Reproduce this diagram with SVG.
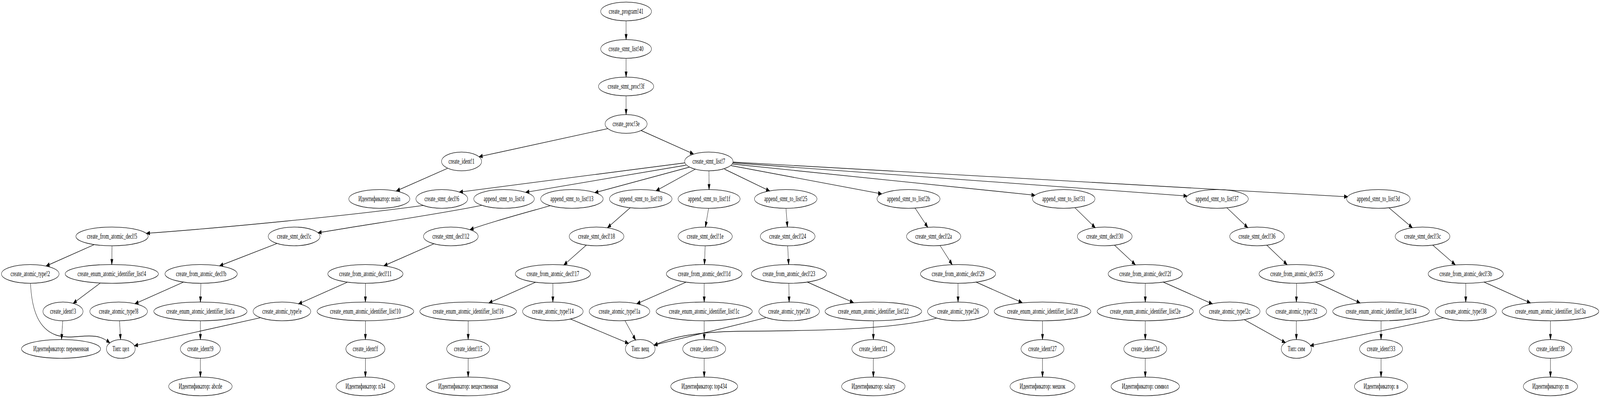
<svg xmlns="http://www.w3.org/2000/svg" width="6555" height="1019" viewBox="0 0 6555 1019" preserveAspectRatio="none">
<style>
:root{width:100vw;height:100vh}
.n ellipse{fill:none;stroke:#000;stroke-width:1.33}
.n text{font-family:"Liberation Serif","Times New Roman",serif;font-size:18.67px;text-anchor:middle;fill:#000}
.e path{fill:none;stroke:#000;stroke-width:1.33;marker-end:url(#ah)}
</style>
<defs>
<marker id="ah" markerUnits="userSpaceOnUse" markerWidth="15" markerHeight="11" refX="13.3" refY="4.67" orient="auto" overflow="visible">
<path d="M0,0 L13.3,4.67 L0,9.33 z" fill="#000" stroke="#000" stroke-width="1.33"/>
</marker>
</defs>
<rect width="6555" height="1019" fill="#fff"/>
<g id="edges" class="e">
<path d="M2565,53.3 L2565,101.3"/>
<path d="M2565,149.3 L2565,197.3"/>
<path d="M2565,245.3 L2565,293.3"/>
<path d="M2490,329.3 L1963,401.2"/>
<path d="M2626,334 L2841,394.2"/>
<path d="M1833,431.2 L1624,488.8"/>
<path d="M2806,417 L1882,491.8"/>
<path d="M2810,423 L2154,492.3"/>
<path d="M2824,428 L2437,493.3"/>
<path d="M2849,433 L2688,488.3"/>
<path d="M2904.5,437.3 L2905,485.3"/>
<path d="M2968,433 L3153,488.8"/>
<path d="M2995,424 L3612,496.3"/>
<path d="M3000,420 L4240,499.8"/>
<path d="M3002,417 L4863,501.8"/>
<path d="M3003,415 L5521,503.8"/>
<path d="M1735,525.8 C1450,551 900,584 600,597.4"/>
<path d="M1973,525.8 C1800,548 1500,575 1303,596.1"/>
<path d="M2253,526.8 C2150,545 2000,570 1926,587.9"/>
<path d="M2582,531.8 L2489,582.9"/>
<path d="M2903,533.3 L2890,581.3"/>
<path d="M3220,533.3 L3226,581.3"/>
<path d="M3749,532.8 L3801,581.9"/>
<path d="M4403.5,531.8 L4487,582.9"/>
<path d="M5026,531.8 L5112,582.9"/>
<path d="M5690,531.8 L5786,582.9"/>
<path d="M385.8,626.3 L189,681"/>
<path d="M459,629.3 L458,677.3"/>
<path d="M1135,623.4 L900,680.5"/>
<path d="M1777,624.4 L1573,680.5"/>
<path d="M2403,627.1 L2310,678.5"/>
<path d="M2889,629.3 L2886,677.3"/>
<path d="M3227,629.3 L3231,677.3"/>
<path d="M3851,628.4 L3901,677.5"/>
<path d="M4565,627.1 L4651,677.5"/>
<path d="M5189,627.1 L5273,677.5"/>
<path d="M5869,627.1 L5961.5,677.5"/>
<path d="M410,725 L300,776.6"/>
<path d="M750.6,722.7 L553,777.6"/>
<path d="M823,725.3 L821,773.3"/>
<path d="M1422.7,722.7 L1223,778.1"/>
<path d="M1497,725.3 L1497,773.3"/>
<path d="M2265,725.3 L2265,773.3"/>
<path d="M2194,722.7 L2003,775.6"/>
<path d="M2810,722.7 L2609,777.6"/>
<path d="M2885,725.3 L2885,773.3"/>
<path d="M3232,725.3 L3233,773.3"/>
<path d="M3307,722 L3496.4,774.6"/>
<path d="M3925,725.3 L3925,773.3"/>
<path d="M3998,722 L4187.4,774.6"/>
<path d="M4692,725.3 L4692,773.3"/>
<path d="M4764.8,722 L4967,778.1"/>
<path d="M5312,725.3 L5311,773.3"/>
<path d="M5389,722 L5572,775.6"/>
<path d="M6005,725.3 L6005,773.3"/>
<path d="M6079.3,722 L6270,775.6"/>
<path d="M125,725.3 C130,797 160,842 230,858 C290,869 330,857 390,861 C415,863 435,870 450,878"/>
<path d="M257,821.3 L252,869.3"/>
<path d="M489.7,821.2 L493.9,869.3"/>
<path d="M821,821.3 L821,869.3"/>
<path d="M1066,813.6 L551,885.2"/>
<path d="M1497,821.3 L1497,869.3"/>
<path d="M1918,821.3 L1918,869.3"/>
<path d="M2337.6,816.8 L2575,879.2"/>
<path d="M2561,821.6 L2604,870.7"/>
<path d="M2885,821.3 L2885,869.3"/>
<path d="M3137,813.6 L2679,883.7"/>
<path d="M3578,821.3 L3578,869.3"/>
<path d="M3837,814.6 C3650,845 3300,847 3050,848 C2850,849 2750,863 2680,884.2"/>
<path d="M4271,821.3 L4271,869.3"/>
<path d="M4692,821.3 L4692,869.3"/>
<path d="M5098,818.6 L5266,877.2"/>
<path d="M5311,821.3 L5311,869.3"/>
<path d="M5658,821.3 L5658,869.3"/>
<path d="M5914,813.6 L5368,885.2"/>
<path d="M6352,821.3 L6352,869.3"/>
<path d="M821,917.3 L821,965.3"/>
<path d="M1497,917.3 L1497,965.3"/>
<path d="M1918,917.3 L1918,965.3"/>
<path d="M2885,917.3 L2885,965.3"/>
<path d="M3578,917.3 L3578,965.3"/>
<path d="M4271,917.3 L4271,965.3"/>
<path d="M4692,917.3 L4692,965.3"/>
<path d="M5658,917.3 L5658,965.3"/>
<path d="M6352,917.3 L6352,965.3"/>
</g>
<g id="n41" class="n"><ellipse cx="2565" cy="29.3" rx="104" ry="24"/><text x="2565" y="35.3">create_program!41</text></g>
<g id="n40" class="n"><ellipse cx="2565" cy="125.3" rx="104" ry="24"/><text x="2565" y="131.3">create_stmt_list!40</text></g>
<g id="n3f" class="n"><ellipse cx="2565" cy="221.3" rx="113" ry="24"/><text x="2565" y="227.3">create_stmt_proc!3f</text></g>
<g id="n3e" class="n"><ellipse cx="2565" cy="317.3" rx="86" ry="24"/><text x="2565" y="323.3">create_proc!3e</text></g>
<g id="n1" class="n"><ellipse cx="1891" cy="413.3" rx="82" ry="24"/><text x="1891" y="419.3">create_ident!1</text></g>
<g id="n7" class="n"><ellipse cx="2904" cy="413.3" rx="99" ry="24"/><text x="2904" y="419.3">create_stmt_list!7</text></g>
<g id="id_main" class="n"><ellipse cx="1554" cy="509.3" rx="125" ry="24"/><text x="1554" y="515.3">Идентификатор: main</text></g>
<g id="n6" class="n"><ellipse cx="1810" cy="509.3" rx="106" ry="24"/><text x="1810" y="515.3">create_stmt_decl!6</text></g>
<g id="nd" class="n"><ellipse cx="2065" cy="509.3" rx="124" ry="24"/><text x="2065" y="515.3">append_stmt_to_list!d</text></g>
<g id="n13" class="n"><ellipse cx="2343" cy="509.3" rx="128" ry="24"/><text x="2343" y="515.3">append_stmt_to_list!13</text></g>
<g id="n19" class="n"><ellipse cx="2625" cy="509.3" rx="128" ry="24"/><text x="2625" y="515.3">append_stmt_to_list!19</text></g>
<g id="n1f" class="n"><ellipse cx="2905" cy="509.3" rx="127" ry="24"/><text x="2905" y="515.3">append_stmt_to_list!1f</text></g>
<g id="n25" class="n"><ellipse cx="3219" cy="509.3" rx="128" ry="24"/><text x="3219" y="515.3">append_stmt_to_list!25</text></g>
<g id="n2b" class="n"><ellipse cx="3722" cy="509.3" rx="129" ry="24"/><text x="3722" y="515.3">append_stmt_to_list!2b</text></g>
<g id="n31" class="n"><ellipse cx="4358" cy="509.3" rx="128" ry="24"/><text x="4358" y="515.3">append_stmt_to_list!31</text></g>
<g id="n37" class="n"><ellipse cx="4986" cy="509.3" rx="128" ry="24"/><text x="4986" y="515.3">append_stmt_to_list!37</text></g>
<g id="n3d" class="n"><ellipse cx="5647" cy="509.3" rx="130" ry="24"/><text x="5647" y="515.3">append_stmt_to_list!3d</text></g>
<g id="n5" class="n"><ellipse cx="459" cy="605.3" rx="148" ry="24"/><text x="459" y="611.3">create_from_atomic_decl!5</text></g>
<g id="nc" class="n"><ellipse cx="1205" cy="605.3" rx="106" ry="24"/><text x="1205" y="611.3">create_stmt_decl!c</text></g>
<g id="n12" class="n"><ellipse cx="1847" cy="605.3" rx="112" ry="24"/><text x="1847" y="611.3">create_stmt_decl!12</text></g>
<g id="n18" class="n"><ellipse cx="2444" cy="605.3" rx="112" ry="24"/><text x="2444" y="611.3">create_stmt_decl!18</text></g>
<g id="n1e" class="n"><ellipse cx="2889" cy="605.3" rx="111" ry="24"/><text x="2889" y="611.3">create_stmt_decl!1e</text></g>
<g id="n24" class="n"><ellipse cx="3227" cy="605.3" rx="112" ry="24"/><text x="3227" y="611.3">create_stmt_decl!24</text></g>
<g id="n2a" class="n"><ellipse cx="3825" cy="605.3" rx="111" ry="24"/><text x="3825" y="611.3">create_stmt_decl!2a</text></g>
<g id="n30" class="n"><ellipse cx="4526" cy="605.3" rx="112" ry="24"/><text x="4526" y="611.3">create_stmt_decl!30</text></g>
<g id="n36" class="n"><ellipse cx="5150" cy="605.3" rx="112" ry="24"/><text x="5150" y="611.3">create_stmt_decl!36</text></g>
<g id="n3c" class="n"><ellipse cx="5828" cy="605.3" rx="112" ry="24"/><text x="5828" y="611.3">create_stmt_decl!3c</text></g>
<g id="n2" class="n"><ellipse cx="124" cy="701.3" rx="118" ry="24"/><text x="124" y="707.3">create_atomic_type!2</text></g>
<g id="n4" class="n"><ellipse cx="458" cy="701.3" rx="191" ry="24"/><text x="458" y="707.3">create_enum_atomic_identifier_list!4</text></g>
<g id="nb" class="n"><ellipse cx="824" cy="701.3" rx="148" ry="24"/><text x="824" y="707.3">create_from_atomic_decl!b</text></g>
<g id="n11" class="n"><ellipse cx="1497" cy="701.3" rx="154" ry="24"/><text x="1497" y="707.3">create_from_atomic_decl!11</text></g>
<g id="n17" class="n"><ellipse cx="2265" cy="701.3" rx="154" ry="24"/><text x="2265" y="707.3">create_from_atomic_decl!17</text></g>
<g id="n1d" class="n"><ellipse cx="2885" cy="701.3" rx="155" ry="24"/><text x="2885" y="707.3">create_from_atomic_decl!1d</text></g>
<g id="n23" class="n"><ellipse cx="3232" cy="701.3" rx="154" ry="24"/><text x="3232" y="707.3">create_from_atomic_decl!23</text></g>
<g id="n29" class="n"><ellipse cx="3925" cy="701.3" rx="154" ry="24"/><text x="3925" y="707.3">create_from_atomic_decl!29</text></g>
<g id="n2f" class="n"><ellipse cx="4692" cy="701.3" rx="152" ry="24"/><text x="4692" y="707.3">create_from_atomic_decl!2f</text></g>
<g id="n35" class="n"><ellipse cx="5312" cy="701.3" rx="154" ry="24"/><text x="5312" y="707.3">create_from_atomic_decl!35</text></g>
<g id="n3b" class="n"><ellipse cx="6005" cy="701.3" rx="154" ry="24"/><text x="6005" y="707.3">create_from_atomic_decl!3b</text></g>
<g id="n3" class="n"><ellipse cx="258" cy="797.3" rx="82" ry="24"/><text x="258" y="803.3">create_ident!3</text></g>
<g id="n8" class="n"><ellipse cx="486" cy="797.3" rx="118" ry="24"/><text x="486" y="803.3">create_atomic_type!8</text></g>
<g id="na" class="n"><ellipse cx="821" cy="797.3" rx="191" ry="24"/><text x="821" y="803.3">create_enum_atomic_identifier_list!a</text></g>
<g id="ne" class="n"><ellipse cx="1155" cy="797.3" rx="118" ry="24"/><text x="1155" y="803.3">create_atomic_type!e</text></g>
<g id="n10" class="n"><ellipse cx="1497" cy="797.3" rx="198" ry="24"/><text x="1497" y="803.3">create_enum_atomic_identifier_list!10</text></g>
<g id="n16" class="n"><ellipse cx="1918" cy="797.3" rx="198" ry="24"/><text x="1918" y="803.3">create_enum_atomic_identifier_list!16</text></g>
<g id="n14" class="n"><ellipse cx="2265" cy="797.3" rx="124" ry="24"/><text x="2265" y="803.3">create_atomic_type!14</text></g>
<g id="n1a" class="n"><ellipse cx="2538" cy="797.3" rx="124" ry="24"/><text x="2538" y="803.3">create_atomic_type!1a</text></g>
<g id="n1c" class="n"><ellipse cx="2885" cy="797.3" rx="197" ry="24"/><text x="2885" y="803.3">create_enum_atomic_identifier_list!1c</text></g>
<g id="n20" class="n"><ellipse cx="3233" cy="797.3" rx="124" ry="24"/><text x="3233" y="803.3">create_atomic_type!20</text></g>
<g id="n22" class="n"><ellipse cx="3578" cy="797.3" rx="198" ry="24"/><text x="3578" y="803.3">create_enum_atomic_identifier_list!22</text></g>
<g id="n26" class="n"><ellipse cx="3925" cy="797.3" rx="125" ry="24"/><text x="3925" y="803.3">create_atomic_type!26</text></g>
<g id="n28" class="n"><ellipse cx="4271" cy="797.3" rx="198" ry="24"/><text x="4271" y="803.3">create_enum_atomic_identifier_list!28</text></g>
<g id="n2e" class="n"><ellipse cx="4692" cy="797.3" rx="197" ry="24"/><text x="4692" y="803.3">create_enum_atomic_identifier_list!2e</text></g>
<g id="n2c" class="n"><ellipse cx="5038" cy="797.3" rx="124" ry="24"/><text x="5038" y="803.3">create_atomic_type!2c</text></g>
<g id="n32" class="n"><ellipse cx="5311" cy="797.3" rx="124" ry="24"/><text x="5311" y="803.3">create_atomic_type!32</text></g>
<g id="n34" class="n"><ellipse cx="5658" cy="797.3" rx="198" ry="24"/><text x="5658" y="803.3">create_enum_atomic_identifier_list!34</text></g>
<g id="n38" class="n"><ellipse cx="6005" cy="797.3" rx="125" ry="24"/><text x="6005" y="803.3">create_atomic_type!38</text></g>
<g id="n3a" class="n"><ellipse cx="6352" cy="797.3" rx="198" ry="24"/><text x="6352" y="803.3">create_enum_atomic_identifier_list!3a</text></g>
<g id="id_var" class="n"><ellipse cx="250" cy="893.3" rx="162" ry="24"/><text x="250" y="899.3">Идентификатор: переменная</text></g>
<g id="t_int" class="n"><ellipse cx="495" cy="893.3" rx="59" ry="24"/><text x="495" y="899.3">Тип: цел</text></g>
<g id="n9" class="n"><ellipse cx="821" cy="893.3" rx="82" ry="24"/><text x="821" y="899.3">create_ident!9</text></g>
<g id="nf" class="n"><ellipse cx="1497" cy="893.3" rx="80" ry="24"/><text x="1497" y="899.3">create_ident!f</text></g>
<g id="n15" class="n"><ellipse cx="1918" cy="893.3" rx="88" ry="24"/><text x="1918" y="899.3">create_ident!15</text></g>
<g id="t_real" class="n"><ellipse cx="2623" cy="893.3" rx="61" ry="24"/><text x="2623" y="899.3">Тип: вещ</text></g>
<g id="n1b" class="n"><ellipse cx="2885" cy="893.3" rx="88" ry="24"/><text x="2885" y="899.3">create_ident!1b</text></g>
<g id="n21" class="n"><ellipse cx="3578" cy="893.3" rx="88" ry="24"/><text x="3578" y="899.3">create_ident!21</text></g>
<g id="n27" class="n"><ellipse cx="4271" cy="893.3" rx="88" ry="24"/><text x="4271" y="899.3">create_ident!27</text></g>
<g id="n2d" class="n"><ellipse cx="4692" cy="893.3" rx="88" ry="24"/><text x="4692" y="899.3">create_ident!2d</text></g>
<g id="t_char" class="n"><ellipse cx="5311" cy="893.3" rx="62" ry="24"/><text x="5311" y="899.3">Тип: сим</text></g>
<g id="n33" class="n"><ellipse cx="5658" cy="893.3" rx="88" ry="24"/><text x="5658" y="899.3">create_ident!33</text></g>
<g id="n39" class="n"><ellipse cx="6352" cy="893.3" rx="88" ry="24"/><text x="6352" y="899.3">create_ident!39</text></g>
<g id="id_abcde" class="n"><ellipse cx="821" cy="989.3" rx="130" ry="24"/><text x="821" y="995.3">Идентификатор: abcde</text></g>
<g id="id_p34" class="n"><ellipse cx="1497" cy="989.3" rx="120" ry="24"/><text x="1497" y="995.3">Идентификатор: п34</text></g>
<g id="id_real" class="n"><ellipse cx="1918" cy="989.3" rx="172" ry="24"/><text x="1918" y="995.3">Идентификатор: вещественная</text></g>
<g id="id_top434" class="n"><ellipse cx="2885" cy="989.3" rx="137" ry="24"/><text x="2885" y="995.3">Идентификатор: top434</text></g>
<g id="id_salary" class="n"><ellipse cx="3578" cy="989.3" rx="130" ry="24"/><text x="3578" y="995.3">Идентификатор: salary</text></g>
<g id="id_bag" class="n"><ellipse cx="4271" cy="989.3" rx="133" ry="24"/><text x="4271" y="995.3">Идентификатор: мешок</text></g>
<g id="id_symbol" class="n"><ellipse cx="4692" cy="989.3" rx="140" ry="24"/><text x="4692" y="995.3">Идентификатор: символ</text></g>
<g id="id_v" class="n"><ellipse cx="5658" cy="989.3" rx="109" ry="24"/><text x="5658" y="995.3">Идентификатор: в</text></g>
<g id="id_m" class="n"><ellipse cx="6352" cy="989.3" rx="111" ry="24"/><text x="6352" y="995.3">Идентификатор: m</text></g>
</svg>
